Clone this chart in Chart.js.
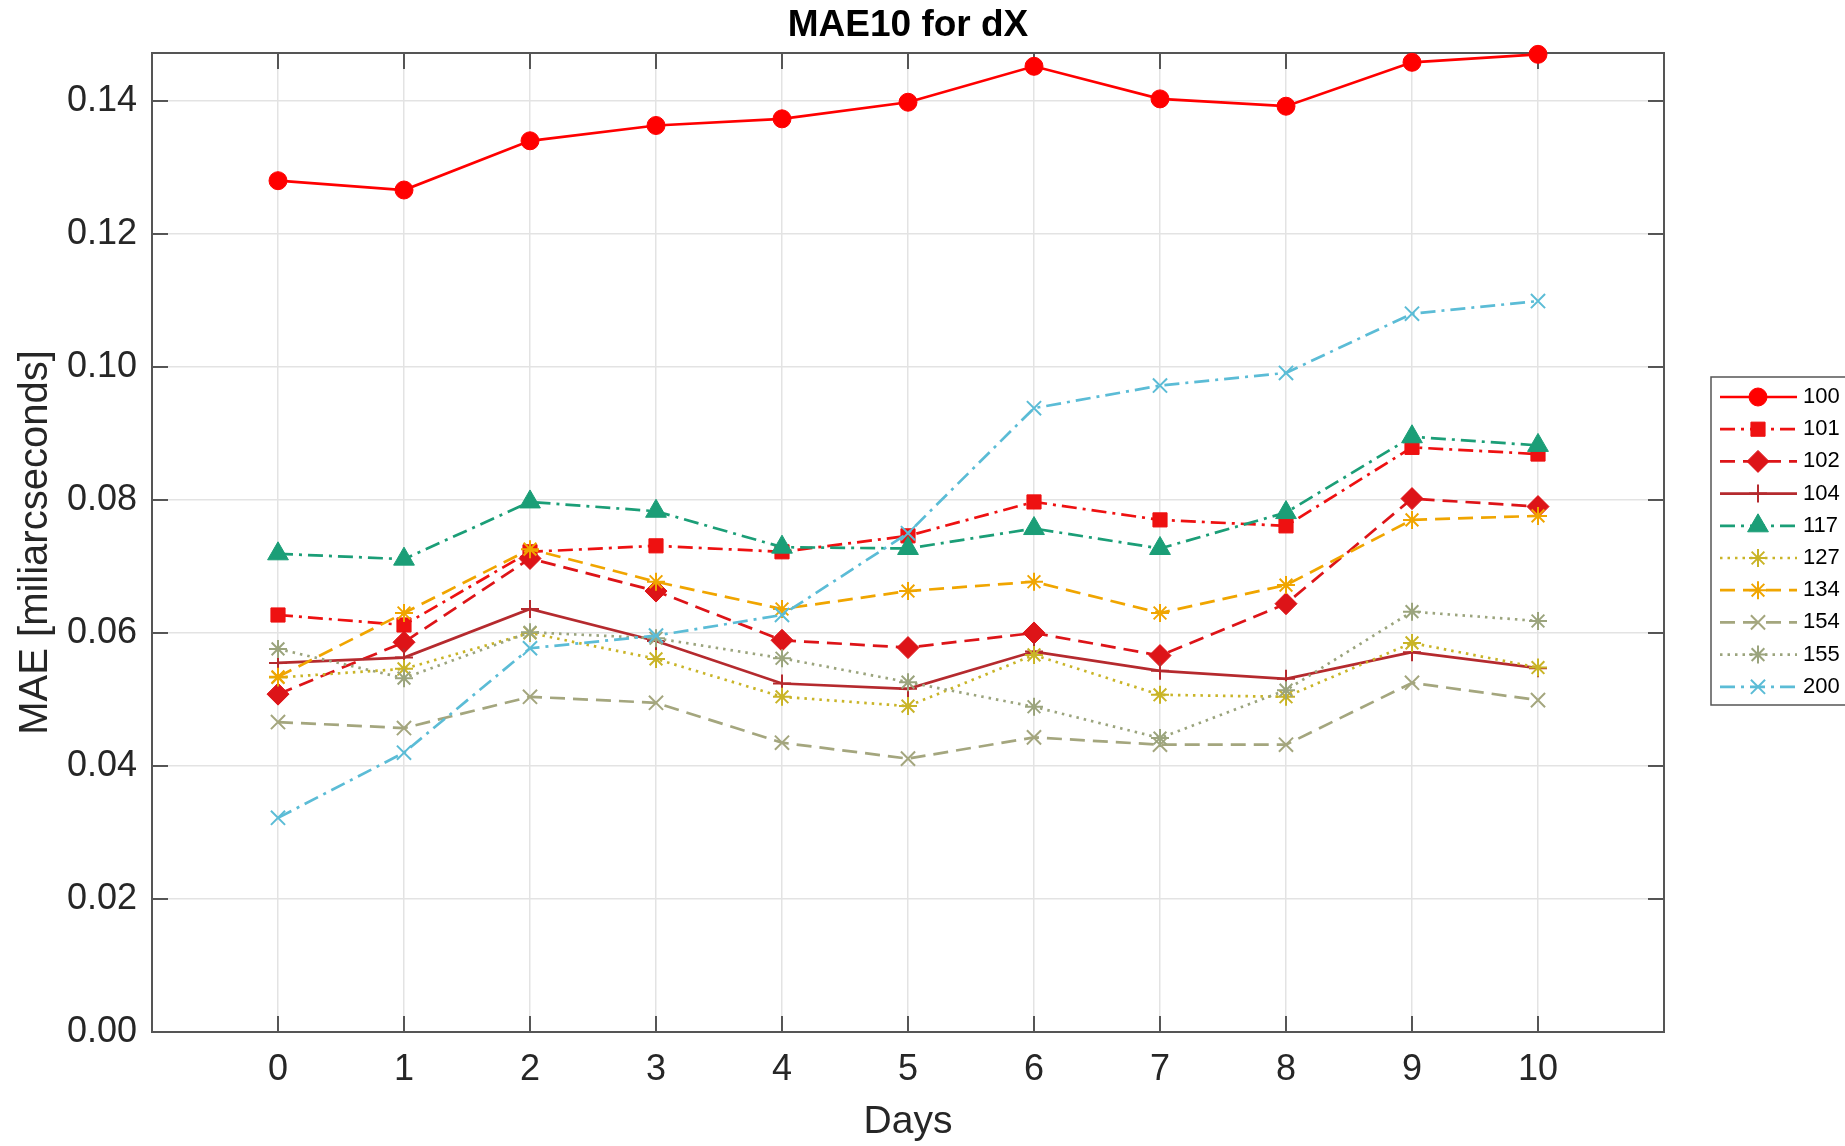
<!DOCTYPE html>
<html>
<head>
<meta charset="utf-8">
<title>MAE10 for dX</title>
<script src="https://cdn.jsdelivr.net/npm/chart.js@4.4.1/dist/chart.umd.min.js"></script>
<style>
  html, body { margin: 0; padding: 0; background: #fff; }
  #wrap { width: 1845px; height: 1146px; position: relative; }
</style>
</head>
<body>
<div id="wrap"><canvas id="maeChart"></canvas></div>
<script>
// ── data ─────────────────────────────────────────────
const days = [0, 1, 2, 3, 4, 5, 6, 7, 8, 9, 10];
const yTickValues = [0, 0.02, 0.04, 0.06, 0.08, 0.10, 0.12, 0.14];

const s100 = [0.1280, 0.1266, 0.1340, 0.1363, 0.1373, 0.1398, 0.1452, 0.1403, 0.1392, 0.1458, 0.1470];
const s101 = [0.0627, 0.0612, 0.0722, 0.0731, 0.0722, 0.0746, 0.0797, 0.0770, 0.0761, 0.0879, 0.0869];
const s102 = [0.0508, 0.0586, 0.0712, 0.0663, 0.0589, 0.0578, 0.0600, 0.0566, 0.0644, 0.0802, 0.0790];
const s104 = [0.0555, 0.0563, 0.0636, 0.0588, 0.0524, 0.0516, 0.0572, 0.0543, 0.0531, 0.0571, 0.0547];
const s117 = [0.0719, 0.0711, 0.0797, 0.0783, 0.0729, 0.0727, 0.0757, 0.0727, 0.0781, 0.0895, 0.0882];
const s127 = [0.0533, 0.0546, 0.0600, 0.0561, 0.0504, 0.0490, 0.0567, 0.0507, 0.0504, 0.0585, 0.0548];
const s134 = [0.0534, 0.0630, 0.0726, 0.0677, 0.0636, 0.0663, 0.0677, 0.0630, 0.0672, 0.0770, 0.0776];
const s154 = [0.0466, 0.0457, 0.0504, 0.0495, 0.0435, 0.0411, 0.0443, 0.0432, 0.0432, 0.0525, 0.0499];
const s155 = [0.0576, 0.0532, 0.0601, 0.0592, 0.0562, 0.0526, 0.0489, 0.0442, 0.0514, 0.0632, 0.0618];
const s200 = [0.0322, 0.0420, 0.0577, 0.0596, 0.0627, 0.0750, 0.0938, 0.0972, 0.0991, 0.1080, 0.1099];

const seriesNames  = ['100', '101', '102', '104', '117', '127', '134', '154', '155', '200'];
const seriesValues = [s100, s101, s102, s104, s117, s127, s134, s154, s155, s200];

// ── styles ───────────────────────────────────────────
const DASHED   = [15, 8];
const DOTTED   = [2.5, 5];
const DASH_DOT = [15, 6, 3, 6];

const seriesStyles = [
  { color: '#ff0000', dash: [],       marker: 'circle',   r: 9,  bw: 1 },
  { color: '#ee1111', dash: DASH_DOT, marker: 'rect',     r: 10, bw: 1 },
  { color: '#dd1418', dash: DASHED,   marker: 'rectRot',  r: 11, bw: 1 },
  { color: '#b52a2e', dash: [],       marker: 'cross',    r: 9,  bw: 2 },
  { color: '#1b9e77', dash: DASH_DOT, marker: 'triangle', r: 12, bw: 1 },
  { color: '#c9b427', dash: DOTTED,   marker: 'star',     r: 9,  bw: 2 },
  { color: '#f0a500', dash: DASHED,   marker: 'star',     r: 9,  bw: 2 },
  { color: '#a4a67e', dash: DASHED,   marker: 'crossRot', r: 10, bw: 2 },
  { color: '#9ba47d', dash: DOTTED,   marker: 'star',     r: 9,  bw: 2 },
  { color: '#5bbcd6', dash: DASH_DOT, marker: 'crossRot', r: 10, bw: 2 },
];

const FONT = "'Liberation Sans', Arial, Helvetica, sans-serif";
const INK  = '#262626';
Chart.defaults.font.family = FONT;

const datasets = seriesValues.map((vals, i) => {
  const st = seriesStyles[i];
  return {
    label: seriesNames[i],
    data: days.map((d, k) => ({ x: d, y: vals[k] })),
    borderColor: st.color,
    backgroundColor: st.color,
    borderWidth: 2.7,
    borderDash: st.dash,
    pointStyle: st.marker,
    pointRadius: st.r,
    pointBorderWidth: st.bw,
    pointBackgroundColor: st.color,
    pointBorderColor: st.color,
    tension: 0,
    clip: false,
    order: seriesValues.length - i,   // later series on top
  };
});

// Box round the plot area, inward MATLAB-style tick marks, and the title
const axesBox = {
  id: 'axesBox',
  beforeDatasetsDraw(chart) {
    const { ctx, chartArea: a, scales: { x, y } } = chart;
    const len = 16;
    ctx.save();
    ctx.strokeStyle = INK;
    ctx.lineWidth = 1.5;
    ctx.beginPath();
    for (const d of days) {
      const px = x.getPixelForValue(d);
      ctx.moveTo(px, a.bottom); ctx.lineTo(px, a.bottom - len);
      ctx.moveTo(px, a.top);    ctx.lineTo(px, a.top + len);
    }
    for (const v of yTickValues) {
      const py = y.getPixelForValue(v);
      ctx.moveTo(a.left, py);  ctx.lineTo(a.left + len, py);
      ctx.moveTo(a.right, py); ctx.lineTo(a.right - len, py);
    }
    ctx.stroke();
    ctx.strokeStyle = '#555';
    ctx.lineWidth = 2;
    ctx.strokeRect(a.left, a.top, a.right - a.left, a.bottom - a.top);

    ctx.fillStyle = '#000';
    ctx.font = `bold 37px ${FONT}`;
    ctx.textAlign = 'center';
    ctx.textBaseline = 'middle';
    ctx.fillText('MAE10 for dX', (a.left + a.right) / 2, 26);
    ctx.restore();
  },
};

// Legend with line + marker samples, boxed, at the right edge
const sideLegend = {
  id: 'sideLegend',
  afterDraw(chart) {
    const { ctx } = chart;
    const box = { left: 1711, top: 377, right: 1870, bottom: 705 };
    const row0 = 397, rowH = 32.2;
    ctx.save();
    ctx.fillStyle = '#fff';
    ctx.fillRect(box.left, box.top, box.right - box.left, box.bottom - box.top);
    ctx.strokeStyle = '#555';
    ctx.lineWidth = 1.5;
    ctx.strokeRect(box.left, box.top, box.right - box.left, box.bottom - box.top);
    seriesNames.forEach((name, i) => {
      const st = seriesStyles[i];
      const yy = row0 + i * rowH;
      ctx.strokeStyle = st.color;
      ctx.fillStyle = st.color;
      ctx.lineWidth = 2.7;
      ctx.setLineDash(st.dash);
      ctx.beginPath();
      ctx.moveTo(1720, yy); ctx.lineTo(1797, yy);
      ctx.stroke();
      ctx.setLineDash([]);
      ctx.lineWidth = st.bw;
      Chart.helpers.drawPoint(ctx, { pointStyle: st.marker, radius: st.r, rotation: 0, borderWidth: st.bw }, 1758, yy);
      ctx.fillStyle = '#000';
      ctx.font = `22px ${FONT}`;
      ctx.textBaseline = 'middle';
      ctx.textAlign = 'left';
      ctx.fillText(name, 1803, yy);
    });
    ctx.restore();
  },
};

new Chart(document.getElementById('maeChart'), {
  type: 'line',
  data: { datasets },
  plugins: [axesBox, sideLegend],
  options: {
    responsive: true,
    maintainAspectRatio: false,
    animation: false,
    layout: { padding: { left: 0, right: 181, top: 53, bottom: 0 } },
    plugins: {
      legend: { display: false },
      tooltip: { enabled: false },
      title: { display: false },
    },
    scales: {
      x: {
        type: 'linear',
        min: -1,
        max: 11,
        afterFit: s => { s.height = 114; },
        ticks: {
          stepSize: 1,
          padding: 16,
          autoSkip: false,
          maxRotation: 0,
          color: INK,
          font: { size: 36, lineHeight: 1.2 },
          callback: v => (v < 0 || v > 10) ? '' : String(v),
        },
        grid: { color: '#e3e3e3', lineWidth: 1.5, drawTicks: false },
        border: { display: false },
        title: {
          display: true,
          text: 'Days',
          color: INK,
          font: { size: 39, lineHeight: 1.2 },
          padding: { top: 0, bottom: 0 },
        },
      },
      y: {
        min: 0,
        max: 0.1472,
        afterFit: s => { s.width = 152; },
        ticks: {
          stepSize: 0.02,
          includeBounds: false,
          padding: 15,
          color: INK,
          font: { size: 36, lineHeight: 1.2 },
          callback: v => v.toFixed(2),
        },
        grid: { color: '#e3e3e3', lineWidth: 1.5, drawTicks: false },
        border: { display: false },
        title: {
          display: true,
          text: 'MAE [miliarcseconds]',
          color: INK,
          font: { size: 40, lineHeight: 1.2 },
          padding: { top: 12, bottom: 0 },
        },
      },
    },
  },
});
</script>
</body>
</html>
